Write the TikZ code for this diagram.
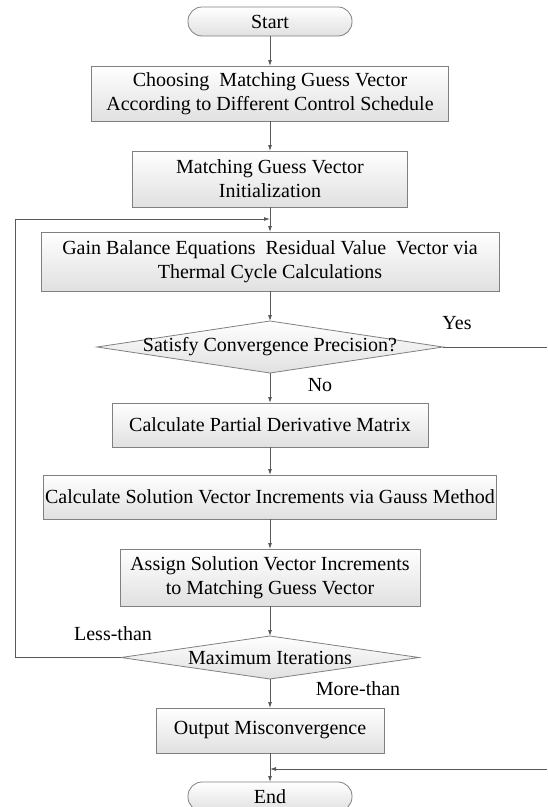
\documentclass[tikz,border=0pt]{standalone}
\usepackage{fontspec}
\setmainfont{Liberation Serif}
\usetikzlibrary{positioning,shapes.geometric,arrows.meta}

\tikzset{
  box/.style={draw=black!50, line width=0.8pt, top color=white, bottom color=black!12,
    align=center, inner sep=0pt, outer sep=0pt},
  term/.style={box, rounded corners=14pt, minimum width=164pt, minimum height=29pt},
  decision/.style={diamond, draw=black!50, line width=0.8pt, top color=white,
    bottom color=black!12, inner sep=0pt, outer sep=0pt},
  flow/.style={draw=black!65, line width=0.8pt, -{Latex[length=6pt,width=4pt]}},
  plain/.style={draw=black!65, line width=0.8pt}
}

\begin{document}
\begin{tikzpicture}[x=1pt,y=-1pt,font=\fontsize{20}{24}\selectfont]
  \useasboundingbox (0,0) rectangle (547,807);

  \node [term] (start) at (270,21.5) {Start};
  \node [box,minimum width=357pt,minimum height=55pt,below=30pt of start] (choose) {Choosing\ \ Matching Guess Vector\\According to Different Control Schedule};
  \node [box,minimum width=275pt,minimum height=56pt,below=30pt of choose] (init) {Matching Guess Vector\\Initialization};
  \node [box,minimum width=458pt,minimum height=59pt,below=25pt of init] (gain) {Gain Balance Equations\ \ Residual Value\ \ Vector via\\Thermal Cycle Calculations};
  \node [decision,minimum width=346pt,minimum height=52pt,below=30pt of gain,label={center:Satisfy Convergence Precision?}] (conv) {};
  \node [box,minimum width=316pt,minimum height=44pt,below=30pt of conv] (partial) {Calculate Partial Derivative Matrix};
  \node [box,minimum width=453pt,minimum height=44pt,below=28pt of partial] (gauss) {Calculate Solution Vector Increments via Gauss Method};
  \node [box,minimum width=300pt,minimum height=57pt,below=30pt of gauss] (assign) {Assign Solution Vector Increments\\to Matching Guess Vector};
  \node [decision,minimum width=298pt,minimum height=43pt,below=30pt of assign,label={center:Maximum Iterations}] (maxit) {};
  \node [box,minimum width=228pt,minimum height=45pt,below=29pt of maxit] (misconv) {Output Misconvergence};
  \node [term,below=29pt of misconv] (end) {End};

  \node (yes) at (457,323) {Yes};
  \node (no) at (320,385) {No};
  \node (less) at (113,634) {Less-than};
  \node (more) at (358,689) {More-than};

  \coordinate [below=12pt of init.south] (loopin);
  \coordinate [below=16pt of misconv.south] (backin);
  \coordinate (loopleft) at (15,0);
  \coordinate (yesright) at (547,0);

  \foreach \a/\b in {start/choose,choose/init,init/gain,gain/conv,conv/partial,partial/gauss,gauss/assign,assign/maxit,maxit/misconv,misconv/end}
    \draw [flow] (\a) -- (\b);

  \draw [flow] (maxit.west) -- (maxit.west -| loopleft) |- (loopin);
  \draw [plain] (conv.east) -- (conv.east -| yesright);
  \draw [flow] (backin -| yesright) -- (backin);
\end{tikzpicture}
\end{document}
